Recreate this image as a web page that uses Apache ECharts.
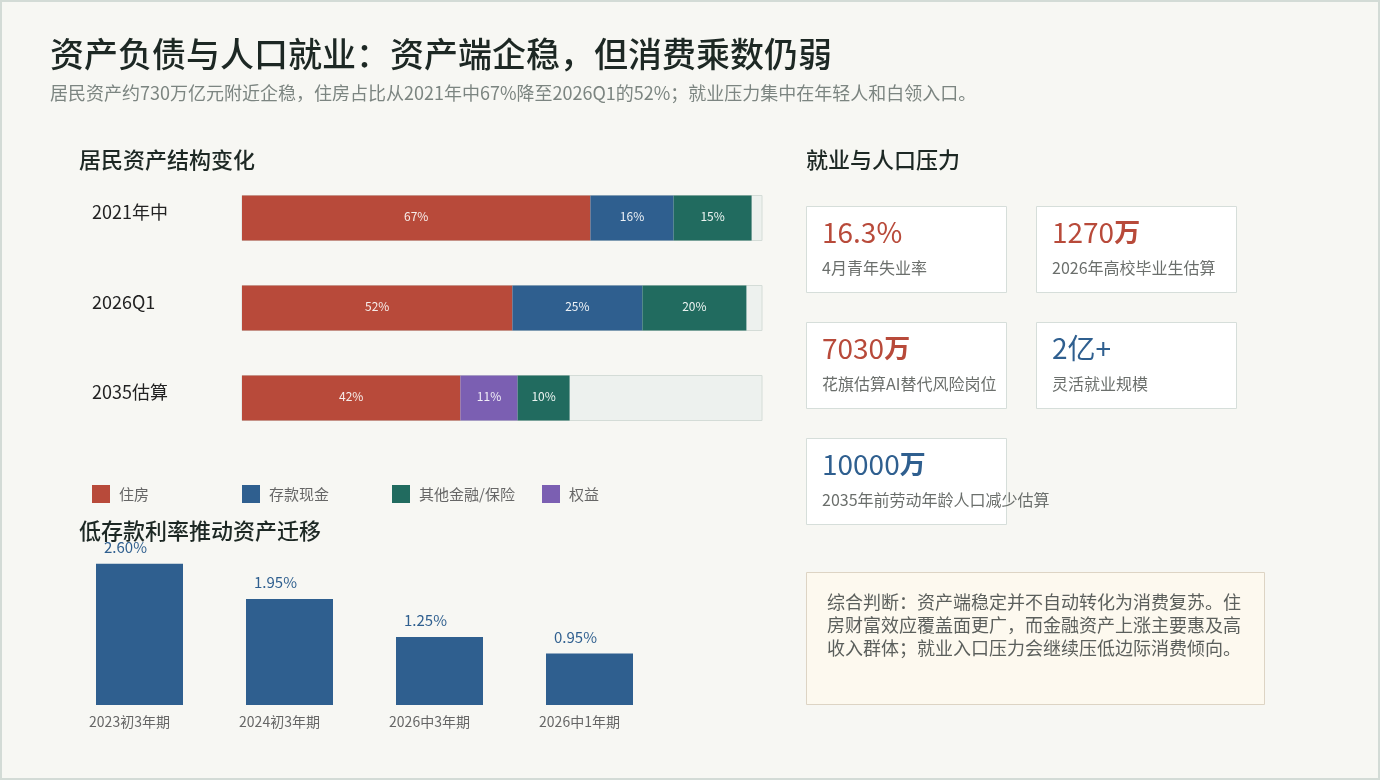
<!DOCTYPE html>
<html>
<head>
<meta charset="utf-8">
<title>资产负债与人口就业</title>
<script src="https://cdn.jsdelivr.net/npm/echarts@6/dist/echarts.min.js"></script>
<style>
  html, body { margin: 0; padding: 0; background: #f7f7f3; }
  #box { position: absolute; left: 0; top: 0; width: 1380px; height: 780px; }
  #frame { position: absolute; left: 0; top: 0; width: 1380px; height: 780px; box-sizing: border-box;
           border: 2px solid #d3dbd6; pointer-events: none; }
</style>
</head>
<body>
<div id="box"></div>
<div id="frame"></div>
<script>
// 居民资产结构（%）
var assetCats = ['2021年中', '2026Q1', '2035估算'];
var housing = [67, 52, 42];
var deposit = [16, 25, 0];
var equity = [0, 0, 11];
var otherFin = [15, 20, 10];

// 定期存款利率（%）
var rateCats = ['2023初3年期', '2024初3年期', '2026中3年期', '2026中1年期'];
var rates = [2.60, 1.95, 1.25, 0.95];

// 就业与人口压力
var kpiValues = ['16.3%', '1270万', '7030万', '2亿+', '10000万'];
var kpiLabels = ['4月青年失业率', '2026年高校毕业生估算', '花旗估算AI替代风险岗位', '灵活就业规模', '2035年前劳动年龄人口减少估算'];
var kpiColors = ['#b84a3a', '#b84a3a', '#b84a3a', '#2f5f8f', '#2f5f8f'];

var noteText = '综合判断：资产端稳定并不自动转化为消费复苏。住\n房财富效应覆盖面更广，而金融资产上涨主要惠及高\n收入群体；就业入口压力会继续压低边际消费倾向。';

var FONT = '"Noto Sans CJK SC", "Noto Sans", sans-serif';
var RED = '#b84a3a', BLUE = '#2f5f8f', GREEN = '#216b5f', PURPLE = '#7b5fb2';

var myChart = echarts.init(document.getElementById('box'));

function pctLabel(p) { return p.value ? p.value + '%' : ''; }

// 卡片
var graphics = [];
kpiValues.forEach(function (v, i) {
    var x = 806 + (i % 2) * 230;
    var y = 206 + Math.floor(i / 2) * 116;
    var num = v.replace(/万$/, '');
    var unit = v.length > num.length ? '万' : '';
    graphics.push({
        type: 'rect', left: x, top: y, z: 10,
        shape: { width: 200, height: 86 },
        style: { fill: '#ffffff', stroke: '#d6deda', lineWidth: 1 }
    });
    graphics.push({
        type: 'text', left: x + 16, top: y + 12, z: 11,
        style: {
            text: '{n|' + num + '}' + (unit ? '{u|' + unit + '}' : ''),
            rich: {
                n: { fontSize: 28, fill: kpiColors[i], fontFamily: FONT },
                u: { fontSize: 26, fill: kpiColors[i], fontFamily: FONT, fontWeight: 'bold' }
            }
        }
    });
    graphics.push({
        type: 'text', left: x + 16, top: y + 54, z: 11,
        style: { text: kpiLabels[i], fontSize: 16, fill: '#6b6f6c', fontFamily: FONT }
    });
});
graphics.push({
    type: 'rect', left: 806, top: 572, z: 10,
    shape: { width: 458, height: 132 },
    style: { fill: '#fdf9ef', stroke: '#ddd4c4', lineWidth: 1 }
});
graphics.push({
    type: 'text', left: 827, top: 591, z: 11,
    style: { text: noteText, fontSize: 18, lineHeight: 23, fill: '#5b5f5c', fontFamily: FONT }
});

function legendAt(name, left) {
    return {
        data: [name], left: left, top: 485, padding: 0,
        icon: 'rect', itemWidth: 18, itemHeight: 18,
        textStyle: { color: '#666', fontSize: 15, fontFamily: FONT, padding: [0, 0, 0, 4] }
    };
}

function heading(text, left, top) {
    return { text: text, left: left, top: top, padding: 0,
             textStyle: { fontSize: 22, fontWeight: 500, color: '#1d2824', fontFamily: FONT } };
}

var option = {
    backgroundColor: '#f7f7f3',
    textStyle: { fontFamily: FONT },
    title: [
        { text: '资产负债与人口就业：资产端企稳，但消费乘数仍弱', left: 50, top: 37, padding: 0,
          textStyle: { fontSize: 34, fontWeight: 500, color: '#1d2824', fontFamily: FONT } },
        { text: '居民资产约730万亿元附近企稳，住房占比从2021年中67%降至2026Q1的52%；就业压力集中在年轻人和白领入口。',
          left: 50, top: 84, padding: 0,
          textStyle: { fontSize: 18, fontWeight: 'normal', color: '#7c8581', fontFamily: FONT } },
        heading('居民资产结构变化', 79, 149),
        heading('就业与人口压力', 806, 149),
        heading('低存款利率推动资产迁移', 79, 520)
    ],
    legend: [
        legendAt('住房', 92),
        legendAt('存款现金', 242),
        legendAt('其他金融/保险', 392),
        legendAt('权益', 542)
    ],
    grid: [
        { left: 242, width: 520, top: 173, height: 270 },
        { left: 64.5, width: 600, top: 542, height: 163 }
    ],
    xAxis: [
        { type: 'value', gridIndex: 0, min: 0, max: 100, show: false },
        { type: 'category', gridIndex: 1, data: rateCats,
          axisLine: { show: false }, axisTick: { show: false },
          axisLabel: { color: '#666', fontSize: 14, margin: 10, padding: [0, 20, 0, 0] } }
    ],
    yAxis: [
        { type: 'category', gridIndex: 0, data: assetCats, inverse: true,
          axisLine: { show: false }, axisTick: { show: false },
          axisLabel: { align: 'left', verticalAlign: 'bottom', lineHeight: 12,
                       margin: 150, color: '#222', fontSize: 18 } },
        { type: 'value', gridIndex: 1, min: 0, max: 3, show: false }
    ],
    series: [
        { name: '住房', type: 'bar', stack: 'a', xAxisIndex: 0, yAxisIndex: 0, barWidth: 45,
          data: housing, itemStyle: { color: RED },
          showBackground: true,
          backgroundStyle: { color: '#edf1ee', borderColor: '#d4dcd7', borderWidth: 1 },
          label: { show: true, position: 'inside', offset: [0, -2], color: '#f7eeeb', fontSize: 12, formatter: pctLabel } },
        { name: '存款现金', type: 'bar', stack: 'a', xAxisIndex: 0, yAxisIndex: 0, barWidth: 45,
          data: deposit, itemStyle: { color: BLUE },
          label: { show: true, position: 'inside', offset: [0, -2], color: '#eef2f6', fontSize: 12, formatter: pctLabel } },
        { name: '权益', type: 'bar', stack: 'a', xAxisIndex: 0, yAxisIndex: 0, barWidth: 45,
          data: equity, itemStyle: { color: PURPLE },
          label: { show: true, position: 'inside', offset: [0, -2], color: '#f1eef7', fontSize: 12, formatter: pctLabel } },
        { name: '其他金融/保险', type: 'bar', stack: 'a', xAxisIndex: 0, yAxisIndex: 0, barWidth: 45,
          data: otherFin, itemStyle: { color: GREEN },
          label: { show: true, position: 'inside', offset: [0, -2], color: '#edf4f2', fontSize: 12, formatter: pctLabel } },
        { name: '存款利率', type: 'bar', xAxisIndex: 1, yAxisIndex: 1, barWidth: 87,
          data: rates, itemStyle: { color: BLUE },
          label: { show: true, position: 'top', distance: 9, offset: [-14, 0], color: BLUE, fontSize: 15,
                   formatter: function (p) { return p.value.toFixed(2) + '%'; } } }
    ],
    graphic: graphics
};

myChart.setOption(option);
</script>
</body>
</html>
